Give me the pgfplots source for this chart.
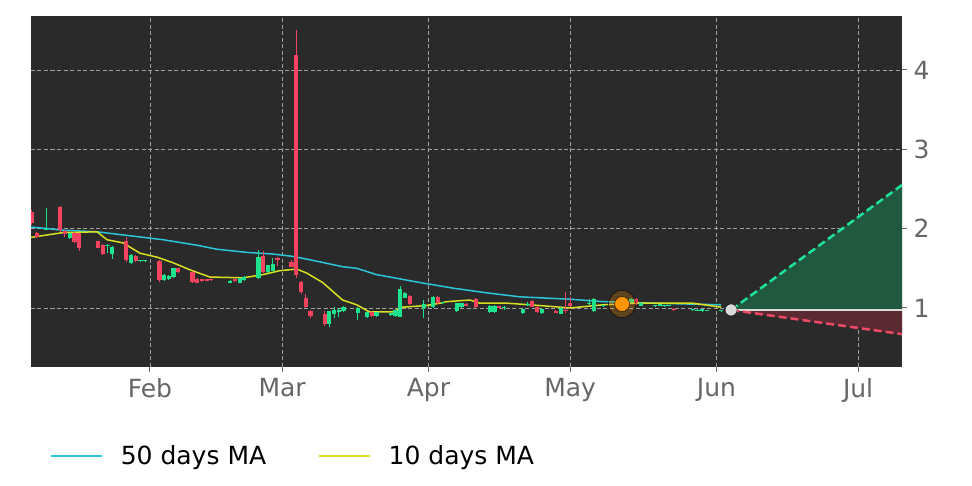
\documentclass[border=0pt]{standalone}
\usepackage{fontspec}
\setmainfont{DejaVu Sans}
\usepackage{pgfplots}
\usepackage{pgfplotstable}
\pgfplotsset{compat=1.18}

\definecolor{bgdark}{HTML}{2A2A2A}
\definecolor{gridc}{HTML}{A0A0A0}
\definecolor{candleup}{HTML}{1DE38F}
\definecolor{candledown}{HTML}{F4435E}
\definecolor{macyan}{HTML}{2CC5DA}
\definecolor{mayellow}{HTML}{D9E021}
\definecolor{ticktext}{HTML}{666666}
\definecolor{fcgreen}{HTML}{1FE39A}
\definecolor{fcred}{HTML}{EE4A64}
\definecolor{fillgreen}{HTML}{20593F}
\definecolor{fillred}{HTML}{5A2932}
\definecolor{dotorange}{HTML}{FF9500}
\definecolor{dotgrey}{HTML}{DADADA}

% day 0 = 1 Jan; d open high low close
\pgfplotstableread{
d o h l c
9 1.99 2.26 1.98 2.00
14 1.88 1.95 1.87 1.95
22 1.78 1.80 1.69 1.79
23 1.68 1.78 1.62 1.77
27 1.57 1.68 1.56 1.67
29 1.59 1.60 1.58 1.60
30 1.59 1.60 1.58 1.60
34 1.35 1.43 1.34 1.42
35 1.36 1.41 1.35 1.40
36 1.39 1.51 1.38 1.50
48 1.32 1.35 1.31 1.34
50 1.32 1.38 1.31 1.38
51 1.35 1.40 1.34 1.39
54 1.38 1.73 1.37 1.64
56 1.45 1.54 1.44 1.54
57 1.47 1.63 1.46 1.55
69 0.80 0.96 0.76 0.96
70 0.92 1.01 0.87 0.97
71 0.95 1.00 0.88 0.97
72 0.96 1.02 0.95 1.01
75 0.94 1.01 0.85 1.00
77 0.88 0.95 0.87 0.95
79 0.90 0.95 0.89 0.95
82 0.91 0.94 0.90 0.94
83 0.90 0.98 0.89 0.97
84 0.89 1.28 0.88 1.24
85 1.13 1.20 1.12 1.19
89 1.00 1.10 0.87 1.05
91 1.01 1.15 1.00 1.14
93 1.06 1.08 1.05 1.07
96 0.96 1.06 0.95 1.06
97 1.01 1.06 1.00 1.06
103 0.95 1.04 0.94 1.03
104 0.95 1.04 0.94 1.03
106 1.00 1.02 0.97 1.01
110 0.94 0.99 0.93 0.99
111 1.04 1.07 1.03 1.05
114 0.94 0.99 0.93 0.99
118 0.93 1.01 0.92 1.00
124 1.05 1.11 1.04 1.06
125 0.96 1.12 0.95 1.11
127 1.02 1.04 1.01 1.04
130 1.03 1.07 1.02 1.06
133 1.08 1.12 1.07 1.11
135 1.03 1.06 1.02 1.06
138 1.02 1.04 1.01 1.04
139 1.03 1.05 1.02 1.05
140 1.02 1.04 1.01 1.04
141 1.03 1.04 1.02 1.04
146 0.97 0.99 0.96 0.99
147 0.97 0.99 0.96 0.98
148 0.96 0.99 0.95 0.99
149 0.97 0.98 0.96 0.98
152 0.96 0.97 0.95 0.97
}\upcandles

\pgfplotstableread{
d o h l c
6 2.21 2.24 2.05 2.07
7 1.95 1.96 1.88 1.90
12 2.27 2.28 1.96 1.98
13 1.97 1.98 1.90 1.93
15 1.95 1.96 1.82 1.83
16 1.95 1.95 1.72 1.76
20 1.84 1.85 1.75 1.76
21 1.79 1.80 1.67 1.68
26 1.84 1.89 1.58 1.60
28 1.66 1.67 1.58 1.59
33 1.59 1.60 1.33 1.35
37 1.50 1.51 1.44 1.45
40 1.45 1.46 1.31 1.33
41 1.37 1.38 1.31 1.32
42 1.36 1.37 1.33 1.34
43 1.36 1.37 1.34 1.345
44 1.36 1.36 1.345 1.35
49 1.36 1.37 1.33 1.34
55 1.66 1.72 1.44 1.45
58 1.63 1.64 1.53 1.60
61 1.58 1.60 1.52 1.52
62 4.19 4.50 1.38 1.42
63 1.33 1.34 1.18 1.20
64 1.13 1.18 1.00 1.01
65 0.96 0.97 0.87 0.90
68 0.92 0.96 0.77 0.80
78 0.95 0.96 0.89 0.90
86 1.15 1.16 1.04 1.05
92 1.14 1.15 1.05 1.06
98 1.05 1.06 1.02 1.03
100 1.11 1.12 1.00 1.01
105 1.02 1.03 0.99 1.00
112 1.09 1.10 1.01 1.01
113 1.01 1.02 0.94 0.95
117 0.96 0.97 0.94 0.94
119 0.98 1.20 0.94 0.96
120 1.06 1.14 1.02 1.03
134 1.11 1.13 1.04 1.06
142 0.99 1.00 0.96 0.97
}\downcandles

\begin{document}
\begin{tikzpicture}
\path[use as bounding box] (0,0) rectangle (972pt,486pt);
\begin{axis}[
  at={(31pt,119pt)}, anchor=south west,
  scale only axis, width=871pt, height=351pt,
  xmin=5.8, xmax=190.3, ymin=0.256, ymax=4.68,
  axis background/.style={fill=bgdark},
  axis line style={draw=none},
  xtick={31,59,90,120,151,181},
  xticklabels={Feb,Mar,Apr,May,Jun,Jul},
  ytick={1,2,3,4},
  xtick pos=bottom, ytick pos=right, yticklabel pos=right,
  tick align=outside, major tick length=5pt,
  tick style={ticktext, line width=1pt},
  grid=major,
  grid style={gridc, dash pattern=on 4pt off 2.5pt, line width=0.8pt},
  ticklabel style={ticktext, font=\fontsize{25}{30}\selectfont},
  xticklabel style={yshift=-3pt},
  yticklabel style={xshift=3pt},
  /pgf/number format/assume math mode=true,
  legend style={at={(0.0185,-0.254)}, anchor=west, draw=none, fill=none,
    font=\fontsize{25}{30}\selectfont,
    /tikz/every even column/.append style={column sep=50pt}},
  legend columns=2,
  legend cell align=left,
  legend image code/.code={\draw[#1] (0pt,0pt) -- (51pt,0pt); \path (67pt,0pt);},
]

% forecast cone
\addplot[forget plot, fill=fillgreen, draw=none]
  coordinates {(154.1,0.975) (190.3,2.55) (190.3,0.975) (154.1,0.975)};
\addplot[forget plot, fill=fillred, draw=none]
  coordinates {(154.1,0.975) (190.3,0.67) (190.3,0.975) (154.1,0.975)};
\addplot[forget plot, dotgrey, line width=2pt]
  coordinates {(154.1,0.975) (190.3,0.975)};
\addplot[forget plot, fcgreen, line width=2.5pt, dash pattern=on 8pt off 4pt]
  coordinates {(154.1,0.975) (190.3,2.55)};
\addplot[forget plot, fcred, line width=2.5pt, dash pattern=on 8pt off 4pt]
  coordinates {(154.1,0.975) (190.3,0.67)};

% moving averages
\addplot[macyan, line width=1.5pt] coordinates {
(5.8,2.02) (12.6,1.98) (19.8,1.96) (26.8,1.91) (33.8,1.86) (41,1.79)
(45.2,1.74) (51.6,1.70) (57,1.68) (61.3,1.65) (65.5,1.60) (71.8,1.52)
(74.8,1.50) (79,1.42) (81.8,1.39) (88.2,1.32) (95.2,1.25) (102.4,1.19)
(109.4,1.14) (120,1.11) (127,1.08) (137.6,1.06) (152,1.04)};
\addlegendentry{50 days MA}
\addplot[mayellow, line width=1.5pt] coordinates {
(5.8,1.89) (9.2,1.92) (12.6,1.95) (19.8,1.96) (21.9,1.86) (25.3,1.82)
(28.9,1.69) (32.5,1.64) (35.9,1.57) (39.5,1.48) (43.7,1.39) (50.7,1.38)
(54.9,1.42) (58.5,1.47) (62.1,1.49) (64.2,1.44) (67.6,1.32) (71.8,1.10)
(74.8,1.04) (77.5,0.95) (82.4,0.95) (84.5,1.01) (89.5,1.03) (92.4,1.06)
(93.9,1.08) (98.8,1.10) (100.9,1.06) (106.6,1.06) (111.5,1.04) (120,1.00)
(127,1.04) (134.2,1.06) (146,1.06) (152,1.01)};
\addlegendentry{10 days MA}

% candles: wicks, then bodies
\addplot[forget plot, draw=none, no markers,
  error bars/.cd, y dir=plus, y explicit, error mark=none,
  error bar style={draw=candleup, line width=1pt}]
  table[x=d, y=l, y error plus expr=\thisrow{h}-\thisrow{l}] {\upcandles};
\addplot[forget plot, draw=none, no markers,
  error bars/.cd, y dir=plus, y explicit, error mark=none,
  error bar style={draw=candleup, line width=4.2pt}]
  table[x=d, y=o, y error plus expr=\thisrow{c}-\thisrow{o}] {\upcandles};
\addplot[forget plot, draw=none, no markers,
  error bars/.cd, y dir=plus, y explicit, error mark=none,
  error bar style={draw=candledown, line width=1pt}]
  table[x=d, y=l, y error plus expr=\thisrow{h}-\thisrow{l}] {\downcandles};
\addplot[forget plot, draw=none, no markers,
  error bars/.cd, y dir=plus, y explicit, error mark=none,
  error bar style={draw=candledown, line width=4.2pt}]
  table[x=d, y=c, y error plus expr=\thisrow{o}-\thisrow{c}] {\downcandles};

% markers
\addplot[forget plot, only marks, mark=*, mark size=13.5pt,
  mark options={draw=none, fill=dotorange, fill opacity=0.25}]
  coordinates {(131,1.05)};
\addplot[forget plot, only marks, mark=*, mark size=7.5pt,
  mark options={draw=none, fill=dotorange}]
  coordinates {(131,1.05)};
\addplot[forget plot, only marks, mark=*, mark size=6pt,
  mark options={draw=none, fill=dotgrey}]
  coordinates {(154.1,0.975)};
\end{axis}
\end{tikzpicture}
\end{document}
